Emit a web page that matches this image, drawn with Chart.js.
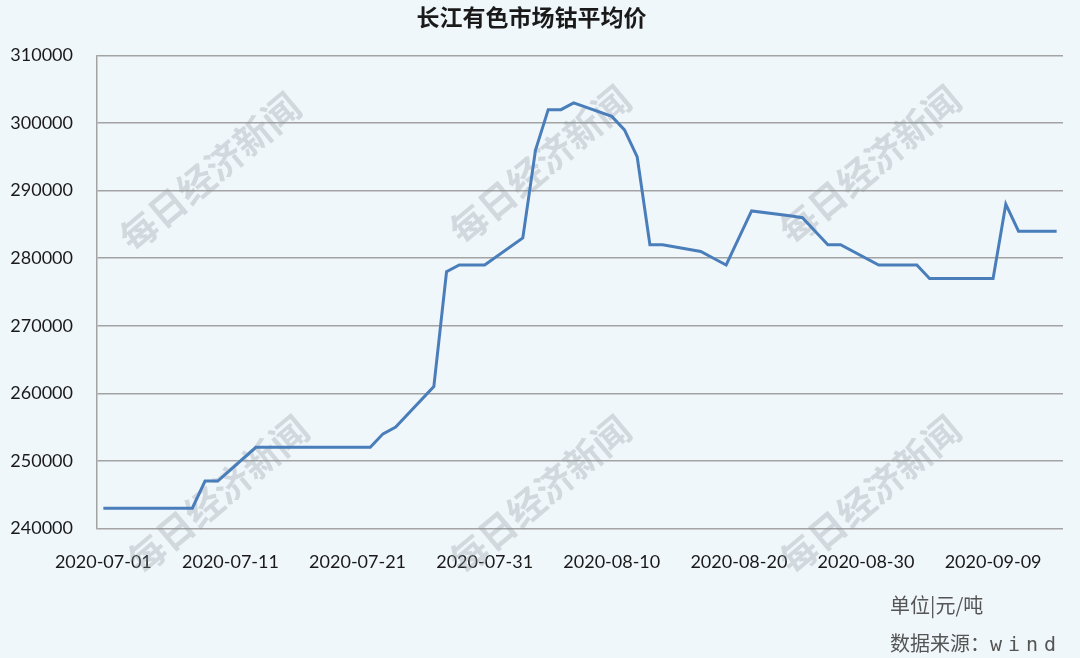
<!DOCTYPE html>
<html>
<head>
<meta charset="utf-8">
<script src="https://cdn.jsdelivr.net/npm/chart.js@4/dist/chart.umd.min.js"></script>
<style>
    html, body { margin: 0; padding: 0; background: #f0f7fb; }
    #wrap { position: relative; width: 1080px; height: 658px; }
    .note { position: absolute; left: 890px; font-family: "Noto Sans CJK SC", sans-serif; font-size: 20px; color: #555; white-space: nowrap; }
    .note .mono { font-family: "DejaVu Sans Mono", monospace; font-size: 20px; letter-spacing: 6px; }
</style>
</head>
<body>
<div id="wrap">
    <canvas id="cobaltChart"></canvas>
    <div class="note" style="top:590px;">单位|元/吨</div>
    <div class="note" style="top:628px;">数据来源：<span class="mono">wind</span></div>
</div>
<script>
// 长江有色市场钴平均价 (元/吨)
const dates = [
    '2020-07-01', '2020-07-02', '2020-07-03', '2020-07-06', '2020-07-07', '2020-07-08', '2020-07-09', '2020-07-10',
    '2020-07-13', '2020-07-14', '2020-07-15', '2020-07-16', '2020-07-17', '2020-07-20', '2020-07-21', '2020-07-22',
    '2020-07-23', '2020-07-24', '2020-07-27', '2020-07-28', '2020-07-29', '2020-07-30', '2020-07-31',
    '2020-08-03', '2020-08-04', '2020-08-05', '2020-08-06', '2020-08-07', '2020-08-10', '2020-08-11', '2020-08-12',
    '2020-08-13', '2020-08-14', '2020-08-17', '2020-08-18', '2020-08-19', '2020-08-20', '2020-08-21',
    '2020-08-24', '2020-08-25', '2020-08-26', '2020-08-27', '2020-08-28', '2020-08-31',
    '2020-09-01', '2020-09-02', '2020-09-03', '2020-09-04', '2020-09-07', '2020-09-08', '2020-09-09',
    '2020-09-10', '2020-09-11', '2020-09-14'
];
const prices = [
    243000, 243000, 243000, 243000, 243000, 243000, 247000, 247000,
    252000, 252000, 252000, 252000, 252000, 252000, 252000, 252000,
    254000, 255000, 261000, 278000, 279000, 279000, 279000,
    283000, 296000, 302000, 302000, 303000, 301000, 299000, 295000,
    282000, 282000, 281000, 280000, 279000, 283000, 287000,
    286300, 286000, 284000, 282000, 282000, 279000,
    279000, 279000, 279000, 277000, 277000, 277000, 277000,
    288000, 284000, 284000
];
const tickDates = ['2020-07-01', '2020-07-11', '2020-07-21', '2020-07-31', '2020-08-10', '2020-08-20', '2020-08-30', '2020-09-09'];
const yTicks = [240000, 250000, 260000, 270000, 280000, 290000, 300000, 310000];

const startDay = Date.parse(dates[0]);
const dayOf = d => Math.round((Date.parse(d) - startDay) / 86400000);
const dayLabel = {};
tickDates.forEach(d => { dayLabel[dayOf(d)] = d; });
const lastDay = dayOf(dates[dates.length - 1]);

// 水印
const watermark = {
    id: 'watermark',
    beforeDatasetsDraw(chart) {
        const ctx = chart.ctx;
        const spots = [[210, 172], [540, 165], [870, 165], [218, 495], [540, 495], [870, 495]];
        ctx.save();
        ctx.font = 'bold 37px "Noto Sans CJK SC"';
        ctx.fillStyle = 'rgba(140, 150, 155, 0.3)';
        ctx.textAlign = 'center';
        ctx.textBaseline = 'middle';
        spots.forEach(([x, y]) => {
            ctx.save();
            ctx.translate(x, y);
            ctx.rotate(-40 * Math.PI / 180);
            ctx.fillText('每日经济新闻', 0, 0);
            ctx.restore();
        });
        ctx.restore();
    }
};

new Chart(document.getElementById('cobaltChart'), {
    type: 'line',
    data: {
        datasets: [{
            data: dates.map((d, i) => ({ x: dayOf(d), y: prices[i] })),
            borderColor: '#4a7ebb',
            borderWidth: 3,
            pointRadius: 0,
            tension: 0,
            fill: false
        }]
    },
    plugins: [watermark],
    options: {
        responsive: true,
        maintainAspectRatio: false,
        animation: false,
        layout: { padding: { left: 0, right: 17, top: 0, bottom: 62 } },
        plugins: {
            legend: { display: false },
            tooltip: { enabled: false },
            title: {
                display: true,
                text: '长江有色市场钴平均价',
                color: '#1a1a1a',
                font: { family: '"Noto Sans CJK SC"', size: 23, weight: 'bold' },
                padding: { top: 3, bottom: 25 }
            }
        },
        scales: {
            x: {
                type: 'linear',
                min: -0.5,
                max: lastDay + 0.5,
                afterBuildTicks: scale => {
                    scale.ticks = tickDates.map(d => ({ value: dayOf(d) }));
                },
                ticks: {
                    autoSkip: false,
                    maxRotation: 0,
                    padding: 23,
                    color: '#1a1a1a',
                    font: { family: 'Lato', size: 18 },
                    callback: v => dayLabel[v] || ''
                },
                grid: { display: false, drawTicks: false },
                border: { display: false }
            },
            y: {
                min: 240000,
                max: 310000,
                afterBuildTicks: scale => {
                    scale.ticks = yTicks.map(v => ({ value: v }));
                },
                afterFit: scale => { scale.width = 97; },
                ticks: {
                    padding: 24,
                    color: '#1a1a1a',
                    font: { family: 'Lato', size: 18 },
                    callback: v => String(v)
                },
                grid: { color: '#a3a3a3', lineWidth: 1.5, drawTicks: false },
                border: { display: true, color: '#a3a3a3', width: 1.5 }
            }
        }
    }
});
</script>
</body>
</html>
